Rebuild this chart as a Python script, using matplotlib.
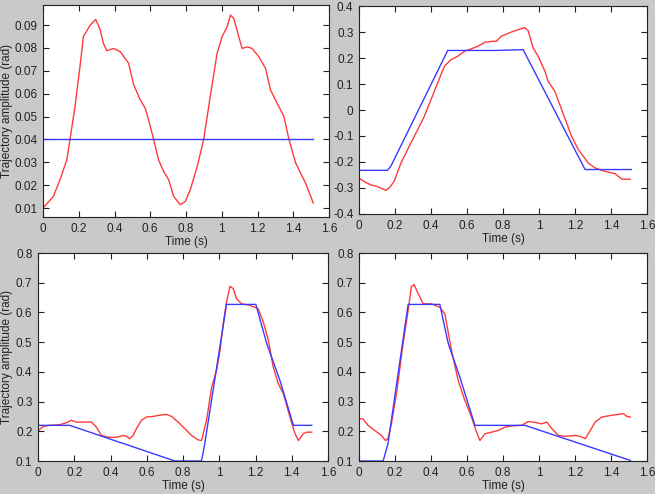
import matplotlib
matplotlib.use("Agg")
import matplotlib.pyplot as plt
import numpy as np

plt.rcParams['font.family'] = ['Liberation Sans', 'DejaVu Sans']

# top-left panel
t_tl_red = [0, 0.058, 0.095, 0.133, 0.151, 0.179, 0.207, 0.226, 0.264, 0.295, 0.32, 0.338,
            0.357, 0.394, 0.432, 0.479, 0.507, 0.544, 0.572, 0.591, 0.619, 0.647, 0.675,
            0.703, 0.731, 0.768, 0.796, 0.824, 0.862, 0.899, 0.936, 0.974, 1.002, 1.030,
            1.049, 1.067, 1.095, 1.114, 1.142, 1.170, 1.207, 1.245, 1.273, 1.310, 1.348,
            1.376, 1.413, 1.441, 1.469, 1.512]
v_tl_red = [0.0100, 0.0151, 0.0224, 0.031, 0.040, 0.0544, 0.072, 0.085, 0.090, 0.0925, 0.088,
            0.082, 0.0788, 0.0798, 0.0784, 0.0733, 0.064, 0.0573, 0.0536, 0.0485, 0.040,
            0.031, 0.026, 0.0224, 0.0151, 0.0115, 0.0129, 0.018, 0.028, 0.040, 0.059,
            0.0777, 0.085, 0.0893, 0.0944, 0.093, 0.085, 0.0798, 0.0805, 0.0798, 0.0762,
            0.0711, 0.0616, 0.0558, 0.050, 0.040, 0.0298, 0.0253, 0.0209, 0.0122]
t_tl_blue = [0, 1.51]
v_tl_blue = [0.04, 0.04]

# top-right panel
t_tr_red = [0, 0.028, 0.065, 0.102, 0.149, 0.167, 0.195, 0.233, 0.288, 0.326, 0.363, 0.4,
            0.437, 0.474, 0.512, 0.549, 0.586, 0.623, 0.660, 0.698, 0.735, 0.763, 0.791,
            0.847, 0.902, 0.921, 0.940, 0.967, 0.995, 1.033, 1.051, 1.088, 1.126, 1.181,
            1.219, 1.274, 1.312, 1.367, 1.423, 1.460, 1.507]
v_tr_red = [-0.262, -0.275, -0.288, -0.294, -0.309, -0.300, -0.275, -0.204, -0.127, -0.076,
            -0.024, 0.040, 0.104, 0.168, 0.194, 0.207, 0.226, 0.235, 0.245, 0.260, 0.264,
            0.264, 0.284, 0.300, 0.313, 0.317, 0.305, 0.239, 0.207, 0.149, 0.110, 0.072,
            0.001, -0.101, -0.153, -0.204, -0.223, -0.236, -0.245, -0.266, -0.266]
t_tr_blue = [0, 0.158, 0.177, 0.493, 0.753, 0.912, 1.256, 1.513]
v_tr_blue = [-0.232, -0.232, -0.216, 0.229, 0.229, 0.232, -0.229, -0.229]

# bottom-left panel
t_bl_red = [0, 0.028, 0.064, 0.12, 0.157, 0.184, 0.212, 0.249, 0.295, 0.322, 0.35, 0.387,
            0.433, 0.47, 0.488, 0.506, 0.525, 0.543, 0.571, 0.598, 0.635, 0.672, 0.709,
            0.737, 0.773, 0.81, 0.847, 0.884, 0.902, 0.93, 0.958, 0.985, 1.004, 1.022,
            1.04, 1.059, 1.077, 1.096, 1.123, 1.169, 1.215, 1.243, 1.271, 1.298, 1.326,
            1.354, 1.39, 1.418, 1.437, 1.464, 1.482, 1.51]
v_bl_red = [0.201, 0.216, 0.220, 0.222, 0.229, 0.237, 0.231, 0.231, 0.231, 0.214, 0.186,
            0.180, 0.180, 0.186, 0.183, 0.175, 0.186, 0.209, 0.237, 0.248, 0.250, 0.254,
            0.257, 0.250, 0.231, 0.209, 0.186, 0.171, 0.169, 0.237, 0.349, 0.405, 0.472,
            0.562, 0.635, 0.688, 0.680, 0.646, 0.629, 0.624, 0.612, 0.568, 0.506, 0.416,
            0.360, 0.326, 0.248, 0.192, 0.169, 0.192, 0.197, 0.197]
t_bl_blue = [0, 0.175, 0.755, 0.902, 0.92, 1.04, 1.202, 1.262, 1.335, 1.409, 1.51]
v_bl_blue = [0.220, 0.220, 0.1, 0.1, 0.158, 0.627, 0.627, 0.495, 0.371, 0.22, 0.22]

# bottom-right panel
t_br_red = [0, 0.022, 0.05, 0.087, 0.124, 0.147, 0.161, 0.18, 0.208, 0.245, 0.273, 0.291,
            0.306, 0.329, 0.357, 0.403, 0.449, 0.477, 0.514, 0.551, 0.588, 0.625, 0.653,
            0.672, 0.7, 0.737, 0.774, 0.811, 0.848, 0.904, 0.941, 0.978, 1.015, 1.043,
            1.071, 1.108, 1.145, 1.201, 1.229, 1.257, 1.285, 1.312, 1.349, 1.405, 1.442,
            1.47, 1.488, 1.507]
v_br_red = [0.242, 0.242, 0.22, 0.203, 0.186, 0.169, 0.175, 0.225, 0.326, 0.495, 0.607,
            0.686, 0.694, 0.663, 0.629, 0.629, 0.617, 0.595, 0.472, 0.371, 0.304, 0.248,
            0.197, 0.169, 0.192, 0.197, 0.203, 0.214, 0.218, 0.220, 0.233, 0.230, 0.225,
            0.231, 0.209, 0.186, 0.183, 0.186, 0.183, 0.175, 0.203, 0.231, 0.248, 0.254,
            0.257, 0.259, 0.250, 0.248]
t_br_blue = [0, 0.134, 0.161, 0.273, 0.449, 0.496, 0.56, 0.644, 0.922, 1.507]
v_br_blue = [0.1, 0.1, 0.158, 0.627, 0.627, 0.495, 0.383, 0.22, 0.22, 0.102]

x_ticks = [0, 0.2, 0.4, 0.6, 0.8, 1.0, 1.2, 1.4, 1.6]
x_labels = ['0', '0.2', '0.4', '0.6', '0.8', '1', '1.2', '1.4', '1.6']

W, H = 655, 494
fig = plt.figure(figsize=(W / 100, H / 100), dpi=100, facecolor='#c9c9c9')


def box(l, r, t, b):
    return [l / W, 1 - b / H, (r - l) / W, (b - t) / H]


def fmt(v, small):
    if small:
        return '%.2f' % v
    if abs(v) < 1e-9:
        return '0'
    return '%.1f' % v


panels = [
    (box(43, 329, 5, 217), t_tl_red, v_tl_red, t_tl_blue, v_tl_blue,
     (0.0061, 0.0988), np.arange(0.01, 0.091, 0.01), True),
    (box(359, 647, 6, 214), t_tr_red, v_tr_red, t_tr_blue, v_tr_blue,
     (-0.4, 0.4), np.arange(-0.4, 0.41, 0.1), False),
    (box(38, 328, 253, 461), t_bl_red, v_bl_red, t_bl_blue, v_bl_blue,
     (0.1, 0.8), np.arange(0.1, 0.81, 0.1), True),
    (box(359, 647, 253, 461), t_br_red, v_br_red, t_br_blue, v_br_blue,
     (0.1, 0.8), np.arange(0.1, 0.81, 0.1), False),
]

for rect, tr, vr, tb, vb, ylim, yt, ylab in panels:
    ax = fig.add_axes(rect)
    ax.plot(tr, vr, color='#ff3a3a', lw=1.0)
    ax.plot(tb, vb, color='#3a3aff', lw=1.0)
    ax.set_xlim(0, 1.6)
    ax.set_ylim(*ylim)
    ax.set_xticks(x_ticks)
    ax.set_xticklabels(x_labels)
    ax.set_yticks(yt)
    ax.set_yticklabels([fmt(v, ylim[1] < 0.2) for v in yt])
    ax.tick_params(direction='in', top=True, right=True, length=4, width=0.8,
                   labelsize=8.5, colors='#222222', pad=4)
    for s in ax.spines.values():
        s.set_linewidth(0.8)
        s.set_color('#222222')
    ax.set_xlabel('Time (s)', fontsize=8.5, labelpad=1, color='#222222')
    if ylab:
        ax.set_ylabel('Trajectory amplitude (rad)', fontsize=8.5, color='#222222')
        # right edge of the rotated label about 13 px from the figure's left edge
        ax.yaxis.set_label_coords((13 - rect[0] * W) / (rect[2] * W), 0.5)

fig.savefig('out.png', dpi=100, facecolor=fig.get_facecolor())
